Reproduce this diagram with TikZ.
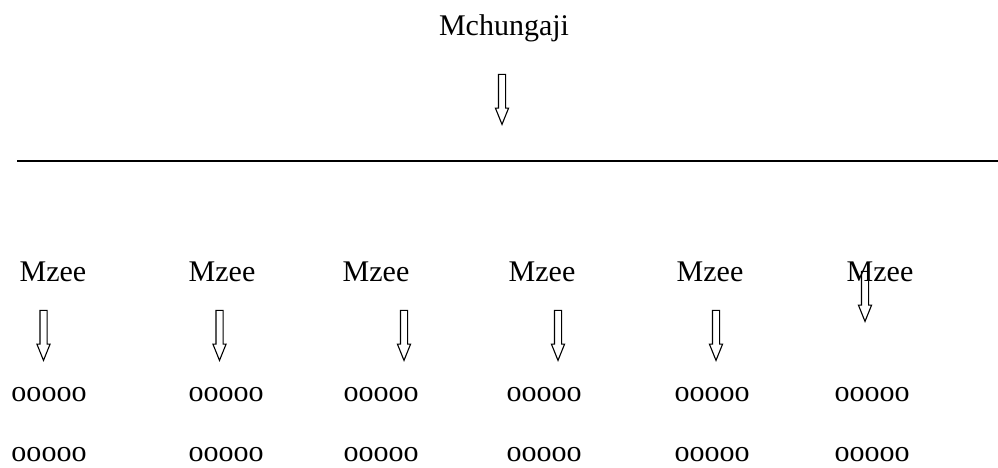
\documentclass[tikz,border=0pt]{standalone}
\usepackage{fontspec}
\setmainfont{Liberation Serif}
\usepackage{tikz}
\usetikzlibrary{shapes.arrows}

\begin{document}
\begin{tikzpicture}[x=1pt, y=-1pt,
        word/.style={anchor=base, inner sep=0pt, font=\fontsize{30}{36}\selectfont},
        downarrow/.style={draw, line width=1.1pt, shape=single arrow, shape border rotate=270,
            inner sep=3pt, minimum height=50pt, single arrow head extend=3pt,
            single arrow tip angle=44}]
        \useasboundingbox (0, 0) rectangle (998, 468);
        \node[word] (top) at (504, 36) {Mchungaji};
        \node[downarrow] (TA) at (502, 95) {};
        \coordinate (LL) at (17, 161);
        \coordinate (LR) at (998, 161);
        \draw [line width=1.3pt] (LL) -- (LR);
        % wazee
        \node[word] (M1) at (53, 281) {Mzee};
        \node[word] (M2) at (222, 281) {Mzee};
        \node[word] (M3) at (376, 281) {Mzee};
        \node[word] (M4) at (542, 281) {Mzee};
        \node[word] (M5) at (710, 281) {Mzee};
        \node[word] (M6) at (880, 281) {Mzee};
        \node[downarrow] (A1) at (43.5, 331) {};
        \node[downarrow] (A2) at (219.5, 331) {};
        \node[downarrow] (A3) at (404, 331) {};
        \node[downarrow] (A4) at (558, 331) {};
        \node[downarrow] (A5) at (716, 331) {};
        \node[downarrow] (A6) at (865, 292) {};
        % safu mbili
        \node[word] (P1) at (49, 401) {ooooo};
        \node[word] (P2) at (226, 401) {ooooo};
        \node[word] (P3) at (381, 401) {ooooo};
        \node[word] (P4) at (544, 401) {ooooo};
        \node[word] (P5) at (712, 401) {ooooo};
        \node[word] (P6) at (872, 401) {ooooo};
        \node[word] (Q1) at (49, 461) {ooooo};
        \node[word] (Q2) at (226, 461) {ooooo};
        \node[word] (Q3) at (381, 461) {ooooo};
        \node[word] (Q4) at (544, 461) {ooooo};
        \node[word] (Q5) at (712, 461) {ooooo};
        \node[word] (Q6) at (872, 461) {ooooo};
\end{tikzpicture}
\end{document}
